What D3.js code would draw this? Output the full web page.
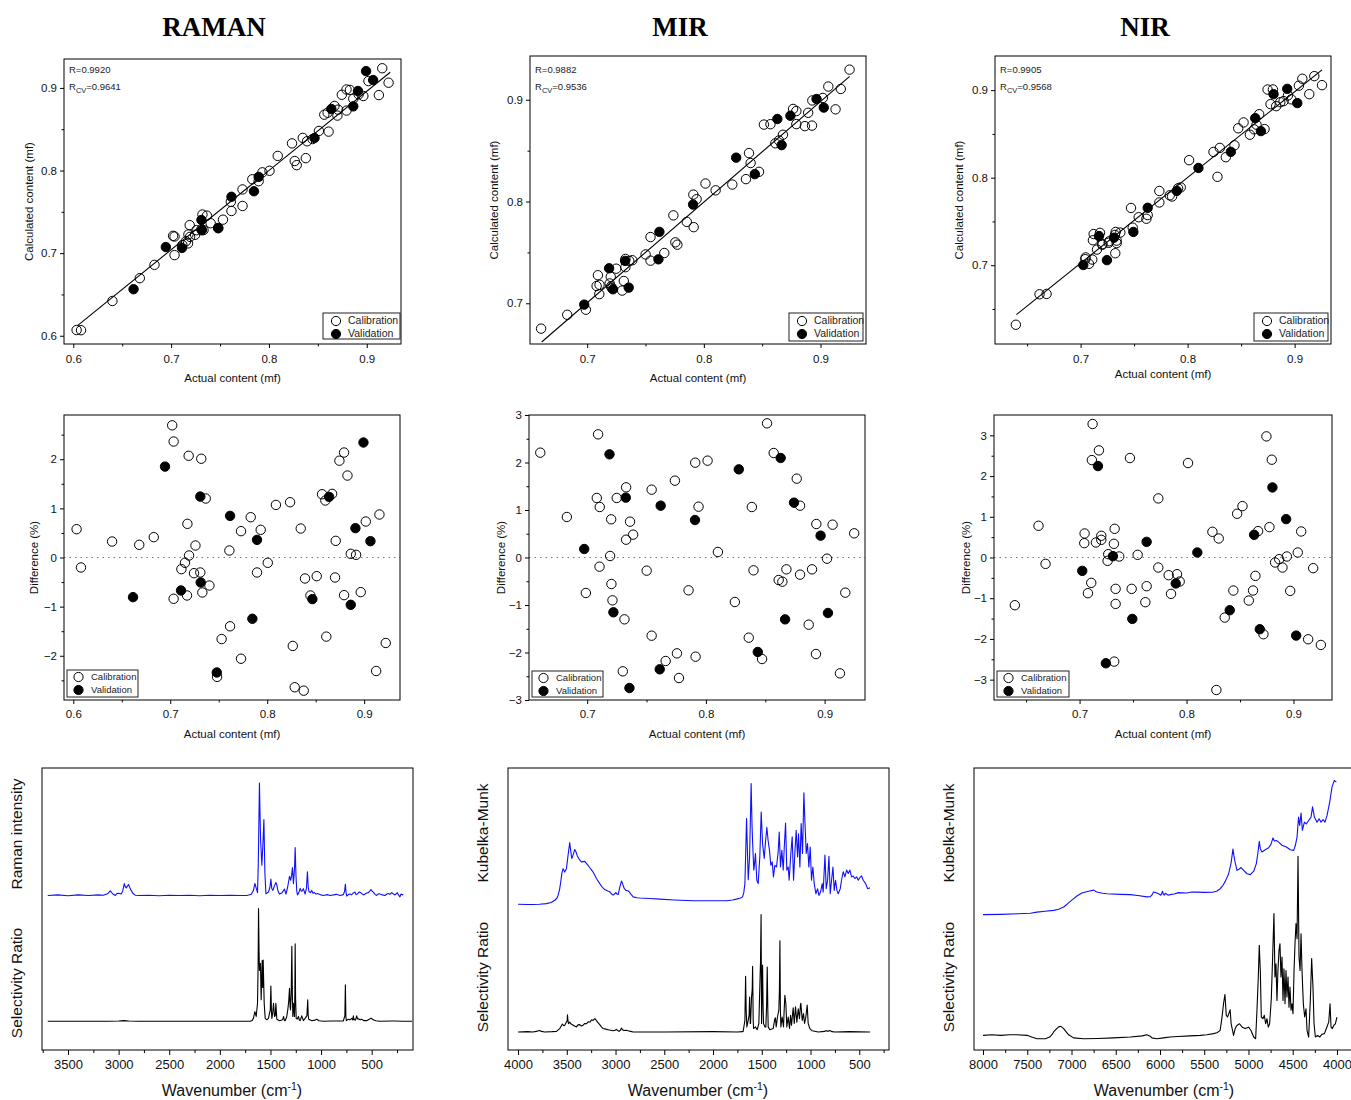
<!DOCTYPE html>
<html><head><meta charset="utf-8">
<script src="https://cdn.jsdelivr.net/npm/d3@7"></script>
<style>body{margin:0;background:#fff}</style>
</head><body><script>
// ---------------- DATA ----------------
const titles = ["RAMAN", "MIR", "NIR"];
const rTexts = ["0.9920", "0.9882", "0.9905"];
const rcvTexts = ["0.9641", "0.9536", "0.9568"];
const seriesNames = ["Calibration", "Validation"];

const ramanCalActual = [0.6034,0.6079,0.640,0.668,0.683,0.702,0.7035,0.7035,0.719,0.732,0.7366,0.7177,0.726,0.7194,0.7152,0.7115,0.7245,0.731,0.7173,0.7331,0.7404,0.7483,0.753,0.7617,0.761,0.773,0.773,0.783,0.7933,0.7895,0.8006,0.809,0.8236,0.8264,0.8284,0.8377,0.8346,0.839,0.8511,0.8446,0.8566,0.860,0.867,0.861,0.8707,0.870,0.8745,0.8793,0.8828,0.8793,0.8862,0.8917,0.8965,0.9017,0.9158,0.9124,0.9223];
const ramanCalPred = [0.6069,0.6067,0.6421,0.6697,0.6858,0.7209,0.7201,0.6976,0.7339,0.7467,0.7454,0.7226,0.7278,0.7197,0.7144,0.7098,0.7222,0.7288,0.7118,0.7279,0.7362,0.7301,0.7405,0.7510,0.7621,0.7771,0.7571,0.7894,0.7978,0.7871,0.7997,0.8177,0.8329,0.8115,0.8065,0.8150,0.8395,0.8354,0.8479,0.8381,0.8676,0.8700,0.8782,0.8471,0.8737,0.8665,0.8917,0.8981,0.8975,0.8726,0.8869,0.8922,0.8902,0.9083,0.9238,0.8913,0.9063];
const ramanCalDiff = [0.576,-0.203,0.325,0.258,0.414,2.69,2.36,-0.84,2.07,2.01,1.20,0.685,0.244,0.041,-0.108,-0.237,-0.319,-0.305,-0.773,-0.712,-0.57,-2.43,-1.66,-1.40,0.142,0.536,-2.06,0.82,0.563,-0.305,-0.108,1.07,1.125,-1.80,-2.64,-2.71,0.59,-0.427,-0.38,-0.773,1.288,1.16,1.295,-1.61,0.339,-0.407,1.97,2.136,1.668,-0.766,0.075,0.054,-0.705,0.732,0.875,-2.31,-1.74];
const ramanValActual = [0.6616,0.6946,0.7111,0.731,0.7314,0.748,0.7617,0.7847,0.7895,0.8466,0.8638,0.8862,0.891,0.8993,0.9065];
const ramanValPred = [0.6563,0.7074,0.7063,0.7401,0.7277,0.7305,0.7682,0.7749,0.7923,0.8394,0.8745,0.8777,0.8963,0.9203,0.9095];
const ramanValDiff = [-0.807,1.85,-0.671,1.24,-0.508,-2.34,0.847,-1.247,0.359,-0.847,1.234,-0.963,0.597,2.34,0.332];
const ramanFitX = [0.604, 0.924];
const ramanFitY = [0.612, 0.919];

const mirCalActual = [0.6605,0.6829,0.7092,0.7081,0.7106,0.7202,0.6989,0.7104,0.7193,0.7204,0.7213,0.7249,0.7328,0.7361,0.7387,0.7328,0.7314,0.730,0.7501,0.7543,0.7543,0.7661,0.7739,0.7756,0.7773,0.7854,0.791,0.7913,0.7938,0.8014,0.8101,0.8244,0.8361,0.8387,0.8401,0.8473,0.8515,0.8571,0.8613,0.8644,0.8678,0.8765,0.8793,0.8793,0.8866,0.8894,0.893,0.8927,0.902,0.9067,0.9129,0.9174,0.9249];
const mirCalPred = [0.6751,0.6887,0.7276,0.7170,0.7182,0.7260,0.6937,0.7090,0.7195,0.7164,0.7148,0.7340,0.7436,0.7417,0.7423,0.7355,0.7219,0.7125,0.7480,0.7651,0.7419,0.7494,0.7864,0.7599,0.7576,0.7800,0.8068,0.7748,0.8023,0.8177,0.8110,0.8167,0.8220,0.8476,0.8378,0.8292,0.8756,0.8760,0.8572,0.8600,0.8656,0.8910,0.8889,0.8761,0.8741,0.8872,0.8993,0.8746,0.9018,0.9130,0.8906,0.9106,0.9296];
const mirCalDiff = [2.207,0.853,2.593,1.253,1.063,0.804,-0.747,-0.193,0.032,-0.558,-0.902,1.253,1.477,0.754,0.481,0.375,-1.302,-2.396,-0.277,1.428,-1.646,-2.179,1.618,-2.018,-2.537,-0.691,1.996,-2.088,1.07,2.039,0.116,-0.937,-1.688,1.063,-0.270,-2.137,2.825,2.2,-0.474,-0.509,-0.249,1.66,1.091,-0.361,-1.414,-0.249,0.705,-2.032,-0.025,0.691,-2.439,-0.740,0.509];
const mirValActual = [0.6975,0.7188,0.7221,0.7325,0.7356,0.7611,0.7619,0.7908,0.8277,0.8437,0.863,0.8667,0.8742,0.8966,0.9028];
const mirValPred = [0.6987,0.7344,0.7138,0.7417,0.7154,0.7432,0.7702,0.7970,0.8431,0.8269,0.8811,0.8554,0.8843,0.9007,0.8923];
const mirValDiff = [0.179,2.172,-1.154,1.26,-2.747,-2.354,1.091,0.789,1.856,-1.989,2.095,-1.302,1.154,0.46,-1.168];
const mirFitX = [0.661, 0.925];
const mirFitY = [0.662, 0.923];

const nirCalActual = [0.6395,0.6616,0.6682,0.7047,0.7044,0.7122,0.7115,0.7181,0.7109,0.7078,0.7153,0.7203,0.7203,0.7268,0.7262,0.7321,0.7328,0.7371,0.7337,0.7337,0.7324,0.7471,0.7487,0.7543,0.7627,0.7615,0.7736,0.7736,0.7833,0.7855,0.7911,0.7936,0.8014,0.8242,0.8301,0.8279,0.8357,0.8438,0.8473,0.8523,0.8582,0.8622,0.8644,0.8669,0.8719,0.8747,0.8775,0.8797,0.8828,0.8866,0.8897,0.8938,0.8969,0.904,0.9072,0.9137,0.9184,0.9256];
const nirCalPred = [0.6320,0.6668,0.6672,0.7089,0.7069,0.7356,0.7285,0.7370,0.7065,0.7016,0.7179,0.7241,0.7234,0.7274,0.7256,0.7346,0.7380,0.7373,0.7281,0.7253,0.7137,0.7654,0.7429,0.7548,0.7573,0.7531,0.7848,0.7717,0.7799,0.7785,0.7879,0.7889,0.8200,0.8294,0.8340,0.8010,0.8234,0.8370,0.8564,0.8631,0.8491,0.8552,0.8605,0.8725,0.8555,0.9007,0.8840,0.9008,0.8817,0.8862,0.8875,0.8940,0.8895,0.9051,0.9130,0.8954,0.9160,0.9057];
const nirCalDiff = [-1.172,0.779,-0.156,0.59,0.352,3.279,2.393,2.631,-0.623,-0.877,0.369,0.533,0.434,0.082,-0.082,0.336,0.705,0.025,-0.77,-1.139,-2.557,2.443,-0.77,0.066,-0.705,-1.098,1.451,-0.246,-0.434,-0.893,-0.41,-0.59,2.32,0.631,0.467,-3.254,-1.475,-0.811,1.074,1.262,-1.057,-0.811,-0.451,0.648,-1.885,2.975,0.746,2.402,-0.123,-0.041,-0.246,0.025,-0.82,0.123,0.639,-2.008,-0.262,-2.148];
const nirValActual = [0.7025,0.7172,0.7246,0.7312,0.7493,0.7627,0.7899,0.8101,0.8404,0.8632,0.8685,0.8803,0.8931,0.9025];
const nirValPred = [0.7002,0.7333,0.7058,0.7314,0.7380,0.7656,0.7849,0.8111,0.8295,0.8680,0.8532,0.8954,0.9015,0.8852];
const nirValDiff = [-0.328,2.246,-2.598,0.033,-1.508,0.385,-0.639,0.123,-1.295,0.557,-1.762,1.721,0.943,-1.918];
const nirFitX = [0.640, 0.9256];
const nirFitY = [0.6435, 0.9232];

// Spectra: [wavenumber, relative value above own baseline]
const ramanSpectrum = [[3700,0],[3600,0.2],[3500,-0.1],[3400,0.2],[3300,0],[3200,0.2],[3150,0.1],[3110,0.6],[3082,1.6],[3060,0.6],[3033,0],[3015,0.7],[3000,0.8],[2975,0.5],[2960,1.5],[2944,4.2],[2933,3],[2924,2.7],[2912,3.4],[2902,3.9],[2890,2.8],[2876,1.8],[2860,0.8],[2836,0.1],[2800,0],[2700,0.1],[2600,-0.1],[2500,0.1],[2400,0],[2300,0.1],[2200,-0.1],[2100,0.1],[2000,0],[1900,0.1],[1800,0],[1733,0],[1690,0.4],[1668,1.8],[1654,4.25],[1640,2.5],[1628,1],[1620,12],[1609,39.9],[1598,20],[1585,10.7],[1575,18],[1565,26.9],[1555,8],[1545,0.6],[1520,1.2],[1505,3],[1496,5.8],[1487,2.5],[1476,1.8],[1460,3.5],[1447,4.6],[1437,3.7],[1425,1.5],[1411,0.5],[1385,1],[1362,2.3],[1347,0.5],[1330,3],[1312,6.8],[1300,5.4],[1290,7.5],[1283,9.9],[1273,4.2],[1262,10],[1256,17],[1248,7],[1240,1.5],[1233,0.2],[1220,1],[1207,2.5],[1195,1.5],[1188,1.6],[1175,2.4],[1158,0.5],[1145,2.5],[1135,8.4],[1127,3],[1119,1.3],[1105,1],[1092,1.8],[1080,0.8],[1069,1.1],[1050,0.5],[1036,0.7],[1000,0.2],[977,0],[940,0.3],[910,0],[878,0.2],[850,0.4],[812,0],[780,0.3],[768,1.5],[760,4],[753,1],[747,-0.2],[730,0.3],[714,0.5],[700,0.2],[681,0.9],[665,1.2],[655,0.3],[642,0.5],[625,1.2],[609,1],[590,0.4],[576,0.2],[555,0.8],[533,1],[520,1.5],[507,2.1],[495,1.5],[484,1.2],[465,0.3],[451,0],[435,0.6],[418,0.5],[395,0.2],[369,0],[350,0.5],[336,0.7],[320,0.4],[303,1],[285,0.5],[270,0.2],[258,0.6],[247,1],[235,0.2],[221,-0.5],[210,0.5],[198,0.2],[188,0.4]];
const ramanSelectivity = [[3700,0],[3500,0],[3100,0],[3000,0.1],[2950,0.2],[2900,0.1],[2800,0],[2000,0],[1700,0],[1680,0.3],[1668,1.1],[1654,3.4],[1641,1.7],[1628,6.4],[1622,20],[1618,40],[1613,25],[1609,18],[1604,19],[1599,20.5],[1592,7.6],[1587,15],[1582,21.5],[1577,12],[1572,21.7],[1567,14],[1562,6.4],[1552,1],[1536,0.5],[1520,1],[1510,2.8],[1502,4],[1496,12.5],[1490,3],[1486,1],[1478,3],[1470,6.4],[1460,1.7],[1452,2],[1447,6.4],[1437,0.7],[1411,0.2],[1380,0.5],[1371,1.7],[1362,0.3],[1355,0.2],[1340,1.5],[1329,4],[1320,7],[1312,11.7],[1306,5],[1302,4],[1295,10],[1289,26.6],[1283,8],[1279,1.7],[1273,6.4],[1263,1.7],[1259,10],[1256,27.5],[1252,8],[1246,1],[1235,0.8],[1223,1.7],[1215,0.4],[1207,0.2],[1191,1.9],[1175,0.2],[1158,1],[1140,2],[1132,7.6],[1127,2],[1122,0.7],[1092,0.2],[1060,0.4],[1043,0.7],[1020,0.2],[977,0],[900,0.1],[800,0.1],[780,0.1],[765,2],[760,12.9],[755,1.5],[750,0.2],[731,0.7],[715,0.5],[698,1],[688,0.5],[681,1.9],[676,0.5],[671,0.7],[660,0.4],[648,1.9],[640,0.8],[632,0.9],[615,0.5],[599,0.7],[575,0.2],[550,0.2],[520,0.8],[507,1.1],[495,0.8],[484,0.5],[460,0.2],[418,0],[300,0.1],[270,0.1],[200,0],[100,0]];

const mirSpectrum = [[4000,0],[3900,-0.1],[3846,-0.1],[3780,0],[3709,0.2],[3660,0.6],[3623,1.4],[3600,2.2],[3589,3.2],[3575,5],[3562,7.9],[3550,11],[3538,12.6],[3521,11.4],[3504,12.6],[3487,17.3],[3470,21.9],[3460,19],[3449,16.2],[3435,17.5],[3418,19.4],[3405,18.5],[3394,17.3],[3370,15.8],[3350,15],[3316,15.2],[3282,13.8],[3255,12.5],[3230,11.4],[3196,9.1],[3162,7.3],[3135,6],[3110,5.2],[3080,4.7],[3059,4.4],[3040,3.6],[3025,3.2],[3010,3.6],[2997,4.1],[2985,3.6],[2973,3.4],[2956,6.1],[2939,8.2],[2930,7.5],[2922,6.7],[2910,5.5],[2894,4.9],[2875,4.8],[2860,4.4],[2840,3.5],[2819,2.6],[2780,2.3],[2751,2.2],[2650,2],[2545,1.8],[2400,1.5],[2203,1.2],[2000,1.2],[1861,1.2],[1800,1.5],[1759,1.8],[1720,2.2],[1697,2.6],[1685,4],[1673,7.3],[1665,18],[1656,30.4],[1648,20],[1639,8.7],[1625,16.8],[1609,42.8],[1600,28],[1592,20.3],[1582,12.1],[1575,14],[1565,18],[1551,8.5],[1537,7.3],[1520,16.8],[1506,32.7],[1492,21.5],[1475,16.2],[1462,22],[1448,27.3],[1435,22.6],[1421,19.1],[1407,13.8],[1393,15],[1380,9.7],[1366,13.8],[1349,13.2],[1332,18.5],[1321,25.6],[1308,13.2],[1294,19.1],[1280,12.1],[1270,19.7],[1256,28.8],[1243,12.1],[1229,13.2],[1219,8.5],[1202,18],[1188,23.9],[1174,8.5],[1161,18],[1147,26.2],[1133,16.8],[1123,25],[1109,13.2],[1096,28.6],[1082,18],[1068,39.5],[1058,29.8],[1044,18],[1031,21.5],[1017,13.2],[1003,20.3],[990,8.5],[976,13.2],[962,7.3],[945,3.7],[928,5.5],[914,3.1],[897,4.3],[880,7.3],[870,4.3],[852,17.4],[839,5.5],[825,8.5],[811,17],[798,3.7],[784,8.5],[770,13.2],[757,4.9],[743,8.5],[729,4.9],[716,3.7],[695,5.5],[682,8.5],[665,11.5],[647,9.7],[630,12.1],[613,10.9],[596,12.1],[579,9.7],[562,10],[545,9.1],[527,9.7],[510,8.5],[493,9.5],[476,10],[459,8.5],[435,7.3],[414,5.5],[390,5.8]];
const mirSelectivity = [[4000,0],[3900,0.1],[3850,0],[3812,0.2],[3790,0.4],[3778,0.5],[3760,0.2],[3726,0],[3650,0.1],[3606,0.2],[3572,1.2],[3545,2.8],[3530,2.2],[3521,2.4],[3504,3.5],[3496,4],[3493,6.1],[3488,4],[3483,2.9],[3470,3.5],[3455,2.8],[3435,2.4],[3415,2],[3401,1.8],[3385,2.5],[3367,2.6],[3350,2.1],[3333,2.4],[3315,3],[3299,2.9],[3280,3.6],[3264,3.5],[3245,4.3],[3230,4.1],[3213,4.7],[3205,4.5],[3196,4],[3180,3.3],[3162,2.6],[3145,1.8],[3127,1.2],[3100,1],[3076,0.8],[3050,0.6],[3025,0.4],[3005,0.6],[2991,0.9],[2978,0.5],[2964,0.2],[2950,0.6],[2939,1.4],[2928,0.8],[2915,0.5],[2890,0.6],[2871,0.4],[2845,0.2],[2819,0],[2500,0],[2000,0.1],[1750,0],[1700,0.1],[1691,0.2],[1678,3],[1673,4.1],[1666,19.7],[1660,8],[1653,1.8],[1639,4.1],[1630,6],[1625,12.4],[1618,3],[1615,3],[1605,12.4],[1598,15],[1594,23.3],[1588,4],[1584,1.2],[1565,1.8],[1547,0.8],[1530,3],[1520,16],[1513,25],[1507,41.6],[1502,3],[1497,14],[1492,23.7],[1486,8],[1482,3],[1468,1.8],[1458,1.8],[1450,10],[1444,23],[1438,8],[1434,1.8],[1417,0.8],[1383,1.2],[1366,4.7],[1360,5],[1352,1.8],[1339,5.3],[1325,7.7],[1319,15],[1314,32.3],[1309,8],[1304,1.8],[1291,5.3],[1277,1.8],[1270,8],[1263,13],[1253,10],[1243,1.8],[1229,5.3],[1215,1.2],[1205,5.9],[1195,2.4],[1178,8.6],[1167,3],[1154,8.9],[1140,3.5],[1126,8.2],[1113,4.7],[1103,9.7],[1099,10.2],[1085,4.1],[1072,6.5],[1061,3],[1048,5.3],[1034,9.5],[1024,3],[1007,1.2],[983,0.4],[921,0],[852,0.2],[840,0.5],[825,0.2],[801,0.5],[780,0.1],[750,0],[600,0.1],[390,0]];

const nirSpectrum = [[8000,0],[7800,0.1],[7600,0.3],[7466,0.5],[7390,0.9],[7300,1.2],[7200,1.5],[7146,1.9],[7089,2.7],[7050,3.7],[7014,4.7],[6975,5.7],[6939,6.6],[6883,7.7],[6808,8.3],[6750,8.7],[6713,8],[6650,7.6],[6600,7.4],[6450,7.2],[6336,7.1],[6250,6.8],[6148,6.3],[6110,6.4],[6092,6.9],[6073,8],[6045,7.8],[6016,7.4],[5990,6.9],[5971,8.3],[5962,7.2],[5952,6.9],[5940,7.6],[5930,7.4],[5910,6.9],[5885,7.1],[5840,7.3],[5791,7.8],[5700,7.7],[5640,8],[5583,8],[5500,7.9],[5400,8],[5360,8.3],[5320,9.2],[5290,10.3],[5262,11.8],[5224,14.5],[5198,18.1],[5185,21],[5175,23.3],[5165,21],[5156,19.3],[5130,15.7],[5103,16.2],[5084,16.7],[5054,15.7],[5017,14.5],[4979,14.2],[4941,15.4],[4911,18.1],[4892,22.2],[4878,26],[4866,23.4],[4848,22.2],[4810,23],[4772,23.7],[4746,24.9],[4723,27.2],[4708,26.1],[4685,26.3],[4659,25.7],[4621,24.6],[4572,24],[4527,23],[4489,22.8],[4470,24.6],[4451,27.5],[4434,34.6],[4421,31.6],[4406,36],[4391,29.9],[4368,32.8],[4346,32.2],[4320,33.4],[4293,34.6],[4276,38.2],[4255,34.6],[4225,32.8],[4202,34],[4180,32.8],[4157,33.7],[4135,32.8],[4112,35.2],[4082,39.9],[4056,45.2],[4030,47.6],[4007,47]];
const nirSelectivity = [[8000,0],[7900,0.2],[7800,0],[7700,0.2],[7616,0.2],[7503,0],[7450,-0.6],[7390,-1.2],[7296,-1.2],[7247,-0.6],[7220,0.3],[7202,1.2],[7170,2.3],[7146,3],[7120,3.2],[7089,2.4],[7060,1.2],[7033,0.2],[6977,-0.9],[6864,-1.2],[6700,-1.1],[6525,-0.9],[6336,-0.6],[6200,-0.2],[6148,0.2],[6110,-0.3],[6092,-0.9],[6036,-1.2],[5960,-0.9],[5885,-0.6],[5800,-0.4],[5658,-0.2],[5545,0],[5470,0.2],[5395,0.6],[5357,0.9],[5330,1.5],[5320,1.8],[5301,5.9],[5282,11.2],[5266,14.5],[5251,7.1],[5237,6.5],[5222,7.7],[5207,9.1],[5196,4.1],[5180,1.8],[5169,0],[5150,2.4],[5132,3.5],[5101,4.1],[5071,2.9],[5037,2.4],[4999,2.9],[4973,1.8],[4941,-0.6],[4919,-1.2],[4904,8.9],[4889,20.7],[4878,31.9],[4866,22.5],[4855,6.5],[4836,5.9],[4821,7.1],[4806,4.1],[4791,5.9],[4776,2.9],[4761,4.1],[4742,13],[4727,27.8],[4712,43.2],[4701,20.7],[4689,25.4],[4678,12.4],[4667,23],[4655,30.1],[4644,32.5],[4633,20.7],[4621,27.8],[4610,12.4],[4599,23.6],[4587,11.2],[4576,23],[4565,13.6],[4553,20.7],[4542,10],[4531,17.1],[4519,8.9],[4508,11.2],[4497,7.7],[4485,23],[4474,32.5],[4463,39.6],[4451,34.3],[4440,63.5],[4429,27.8],[4417,23],[4406,36],[4395,23],[4380,11.2],[4365,6.5],[4350,9.4],[4338,1.8],[4320,-0.6],[4301,12.4],[4286,27.2],[4271,17.1],[4259,4.1],[4244,-0.6],[4218,0],[4195,-0.6],[4169,0.4],[4142,0.6],[4120,2.4],[4093,4.7],[4078,11.2],[4067,2.9],[4052,2.4],[4037,3.5],[4018,4.1],[4000,6.5]];

const ramanWnTicks = [3500,3000,2500,2000,1500,1000,500];
const mirWnTicks = [4000,3500,3000,2500,2000,1500,1000,500];
const nirWnTicks = [8000,7500,7000,6500,6000,5500,5000,4500,4000];

// ---------------- DRAWING ----------------
const FONT = "'Liberation Sans', Arial, Helvetica, sans-serif";
const svg = d3.select("body").append("svg").attr("width", 1351).attr("height", 1100)
  .style("background", "#fff");

function frame(f) {
  svg.append("rect").attr("x", f.x0).attr("y", f.y0).attr("width", f.x1 - f.x0).attr("height", f.y1 - f.y0)
    .attr("fill", "none").attr("stroke", "#000").attr("stroke-width", 1);
}
function range(a, b, s) { const r = []; for (let v = a; v <= b + 1e-9; v += s) r.push(+v.toFixed(4)); return r; }

function bottomAxis(x, f, major, minor, fmt, fs, size, pad) {
  const g = svg.append("g").attr("transform", `translate(0,${f.y1})`);
  g.call(d3.axisBottom(x).tickValues(major).tickSize(size).tickPadding(pad).tickFormat(fmt));
  g.select(".domain").remove();
  g.selectAll("text").attr("font-size", fs).attr("font-family", FONT).attr("fill", "#111");
  if (minor) {
    const g2 = svg.append("g").attr("transform", `translate(0,${f.y1})`);
    g2.call(d3.axisBottom(x).tickValues(minor).tickSize(size * 0.6).tickFormat(""));
    g2.select(".domain").remove();
  }
}
function leftAxis(y, f, major, minor, fmt, fs) {
  const g = svg.append("g").attr("transform", `translate(${f.x0},0)`);
  g.call(d3.axisLeft(y).tickValues(major).tickSize(4).tickPadding(3).tickFormat(fmt));
  g.select(".domain").remove();
  g.selectAll("text").attr("font-size", fs).attr("font-family", FONT).attr("fill", "#111");
  const g2 = svg.append("g").attr("transform", `translate(${f.x0},0)`);
  g2.call(d3.axisLeft(y).tickValues(minor).tickSize(2.5).tickFormat(""));
  g2.select(".domain").remove();
}
function label(x, y, txt, fs, rot) {
  const t = svg.append("text").attr("x", x).attr("y", y).attr("text-anchor", "middle")
    .attr("dominant-baseline", "middle").attr("font-family", FONT).attr("font-size", fs).attr("fill", "#111").text(txt);
  if (rot) t.attr("transform", `rotate(-90,${x},${y})`);
  return t;
}
function legend(bx, by, bw, bh, cx, tx, r1, r2, fs) {
  svg.append("rect").attr("x", bx).attr("y", by).attr("width", bw).attr("height", bh)
    .attr("fill", "#fff").attr("stroke", "#222").attr("stroke-width", 1);
  svg.append("circle").attr("cx", cx).attr("cy", r1).attr("r", 4.6).attr("fill", "none").attr("stroke", "#000");
  svg.append("circle").attr("cx", cx).attr("cy", r2).attr("r", 4.6).attr("fill", "#000").attr("stroke", "#000");
  [seriesNames[0], seriesNames[1]].forEach((s, i) => {
    svg.append("text").attr("x", tx).attr("y", i ? r2 : r1).attr("dominant-baseline", "middle")
      .attr("font-family", FONT).attr("font-size", fs).attr("fill", "#222").text(s);
  });
}
function points(x, y, xs, ys, filled) {
  svg.append("g").selectAll("circle").data(xs).join("circle")
    .attr("cx", (d) => x(d)).attr("cy", (d, i) => y(ys[i])).attr("r", 4.7)
    .attr("fill", filled ? "#000" : "none").attr("stroke", "#000").attr("stroke-width", 1);
}

// Titles
const titleX = [214, 680, 1145];
titles.forEach((t, i) => {
  svg.append("text").attr("x", titleX[i]).attr("y", 36).attr("text-anchor", "middle")
    .attr("font-family", "'Liberation Serif', 'DejaVu Serif', serif").attr("font-weight", "bold")
    .attr("font-size", 27).attr("fill", "#000").text(t);
});

// ---- Top row: calculated vs actual ----
const topCfg = [
  {f:{x0:64,x1:401,y0:59,y1:344}, xd:[0.5905,0.935], yd:[0.590,0.935], xt:[0.6,0.7,0.8,0.9], yt:[0.6,0.7,0.8,0.9],
   cal:[ramanCalActual, ramanCalPred], val:[ramanValActual, ramanValPred], fit:[ramanFitX, ramanFitY],
   lg:[323,313,77,26], ylx:30, xly:379, tx:69},
  {f:{x0:530,x1:866,y0:56,y1:344}, xd:[0.651,0.939], yd:[0.660,0.943], xt:[0.7,0.8,0.9], yt:[0.7,0.8,0.9],
   cal:[mirCalActual, mirCalPred], val:[mirValActual, mirValPred], fit:[mirFitX, mirFitY],
   lg:[789,313,74,28], ylx:495, xly:379, tx:535},
  {f:{x0:995,x1:1331,y0:56,y1:344}, xd:[0.620,0.934], yd:[0.610,0.939], xt:[0.7,0.8,0.9], yt:[0.7,0.8,0.9],
   cal:[nirCalActual, nirCalPred], val:[nirValActual, nirValPred], fit:[nirFitX, nirFitY],
   lg:[1254,313,74,28], ylx:960, xly:375, tx:1000}
];
topCfg.forEach((c, i) => {
  const x = d3.scaleLinear().domain(c.xd).range([c.f.x0, c.f.x1]);
  const y = d3.scaleLinear().domain(c.yd).range([c.f.y1, c.f.y0]);
  const minorX = range(0.65, 0.95, 0.1).filter(v => v > c.xd[0] && v < c.xd[1]);
  const minorY = range(0.65, 0.95, 0.1).filter(v => v > c.yd[0] && v < c.yd[1]);
  bottomAxis(x, c.f, c.xt, minorX, d3.format(".1f"), 11.5, 4, 7);
  leftAxis(y, c.f, c.yt, minorY, d3.format(".1f"), 11.5);
  svg.append("line").attr("x1", x(c.fit[0][0])).attr("y1", y(c.fit[1][0]))
    .attr("x2", x(c.fit[0][1])).attr("y2", y(c.fit[1][1])).attr("stroke", "#000").attr("stroke-width", 1.1);
  points(x, y, c.cal[0], c.cal[1], false);
  points(x, y, c.val[0], c.val[1], true);
  frame(c.f);
  const lx = c.lg[0], ly = c.lg[1];
  legend(lx, ly, c.lg[2], c.lg[3], lx + 13, lx + 25, ly + 8, ly + 21, 10.5);
  svg.append("text").attr("x", c.tx).attr("y", 73).attr("font-family", FONT)
    .attr("font-size", 9.5).attr("fill", "#222").text("R=" + rTexts[i]);
  const t2 = svg.append("text").attr("x", c.tx).attr("y", 90).attr("font-family", FONT)
    .attr("font-size", 9.5).attr("fill", "#222");
  t2.append("tspan").text("R");
  t2.append("tspan").attr("dy", 2.5).attr("font-size", 7.5).text("CV");
  t2.append("tspan").attr("dy", -2.5).text("=" + rcvTexts[i]);
  label((c.f.x0 + c.f.x1) / 2, c.xly, "Actual content (mf)", 11.5);
  label(c.ylx, (c.f.y0 + c.f.y1) / 2, "Calculated content (mf)", 11.5, true);
});

// ---- Middle row: difference ----
const midCfg = [
  {f:{x0:64,x1:400,y0:415,y1:700}, xd:[0.5904,0.937], yd:[-2.9,2.9], xt:[0.6,0.7,0.8,0.9], yt:[-2,-1,0,1,2],
   ym:[-2.5,-1.5,-0.5,0.5,1.5,2.5], cal:[ramanCalActual, ramanCalDiff], val:[ramanValActual, ramanValDiff],
   lg:[67,670,71,27], ylx:35},
  {f:{x0:529,x1:865,y0:415,y1:700}, xd:[0.651,0.934], yd:[-3,3], xt:[0.7,0.8,0.9], yt:[-3,-2,-1,0,1,2,3],
   ym:[-2.5,-1.5,-0.5,0.5,1.5,2.5], cal:[mirCalActual, mirCalDiff], val:[mirValActual, mirValDiff],
   lg:[532,671,71,26], ylx:502},
  {f:{x0:994,x1:1332,y0:415,y1:700}, xd:[0.620,0.936], yd:[-3.5,3.5], xt:[0.7,0.8,0.9], yt:[-3,-2,-1,0,1,2,3],
   ym:[-2.5,-1.5,-0.5,0.5,1.5,2.5], cal:[nirCalActual, nirCalDiff], val:[nirValActual, nirValDiff],
   lg:[997,671,72,26], ylx:967}
];
midCfg.forEach((c) => {
  const x = d3.scaleLinear().domain(c.xd).range([c.f.x0, c.f.x1]);
  const y = d3.scaleLinear().domain(c.yd).range([c.f.y1, c.f.y0]);
  const minorX = range(0.65, 0.95, 0.1).filter(v => v > c.xd[0] && v < c.xd[1]);
  bottomAxis(x, c.f, c.xt, minorX, d3.format(".1f"), 11.5, 4, 6);
  leftAxis(y, c.f, c.yt, c.ym, d3.format("d"), 11.5);
  svg.append("line").attr("x1", c.f.x0).attr("x2", c.f.x1).attr("y1", y(0)).attr("y2", y(0))
    .attr("stroke", "#777").attr("stroke-width", 1.2).attr("stroke-dasharray", "1.5,4");
  points(x, y, c.cal[0], c.cal[1], false);
  points(x, y, c.val[0], c.val[1], true);
  frame(c.f);
  const lx = c.lg[0], ly = c.lg[1];
  legend(lx, ly, c.lg[2], c.lg[3], lx + 11.5, lx + 24, ly + 7, ly + 20, 9.5);
  label((c.f.x0 + c.f.x1) / 2, 735, "Actual content (mf)", 11.5);
  label(c.ylx, (c.f.y0 + c.f.y1) / 2, "Difference (%)", 11.5, true);
});

// ---- Bottom row: spectra ----
const botCfg = [
  {f:{x0:42,x1:413,y0:768,y1:1050}, xd:[3757,92], ticks:ramanWnTicks, spec:ramanSpectrum, sel:ramanSelectivity,
   off:[54.8,10.2], ylab:["Raman intensity","Selectivity Ratio"], ylx:18, yly:[834,983], wx:232},
  {f:{x0:508,x1:889,y0:768,y1:1050}, xd:[4103,195], ticks:mirWnTicks, spec:mirSpectrum, sel:mirSelectivity,
   off:[51.7,6.4], ylab:["Kubelka-Munk","Selectivity Ratio"], ylx:484, yly:[833,977], wx:698},
  {f:{x0:974,x1:1352,y0:768,y1:1050}, xd:[8102,3830], ticks:nirWnTicks, spec:nirSpectrum, sel:nirSelectivity,
   off:[48,5.2], ylab:["Kubelka-Munk","Selectivity Ratio"], ylx:950, yly:[833,977], wx:1164}
];
botCfg.forEach((c) => {
  const x = d3.scaleLinear().domain(c.xd).range([c.f.x0, c.f.x1]);
  const y = d3.scaleLinear().domain([0, 100]).range([c.f.y1, c.f.y0]);
  const minor = c.ticks.map(v => v - 250).filter(v => v > c.xd[1] && v < c.xd[0]);
  const minor2 = [c.ticks[0] + 250].filter(v => v < c.xd[0]);
  bottomAxis(x, c.f, c.ticks, minor.concat(minor2), d3.format("d"), 13, 5, 5);
  const line = (off) => d3.line().x(d => x(d[0])).y(d => y(d[1] + off));
  svg.append("path").datum(c.spec).attr("d", line(c.off[0])).attr("fill", "none")
    .attr("stroke", "#1010ff").attr("stroke-width", 1.1).attr("stroke-linejoin", "round");
  svg.append("path").datum(c.sel).attr("d", line(c.off[1])).attr("fill", "none")
    .attr("stroke", "#000").attr("stroke-width", 1.1).attr("stroke-linejoin", "round");
  frame(c.f);
  label(c.ylx, c.yly[0], c.ylab[0], 15.5, true);
  label(c.ylx, c.yly[1], c.ylab[1], 15.5, true);
  const t = svg.append("text").attr("x", c.wx).attr("y", 1096).attr("text-anchor", "middle")
    .attr("font-family", FONT).attr("font-size", 16).attr("fill", "#111");
  t.append("tspan").text("Wavenumber (cm");
  t.append("tspan").attr("dy", -6).attr("font-size", 10.5).text("-1");
  t.append("tspan").attr("dy", 6).text(")");
});
</script></body></html>
